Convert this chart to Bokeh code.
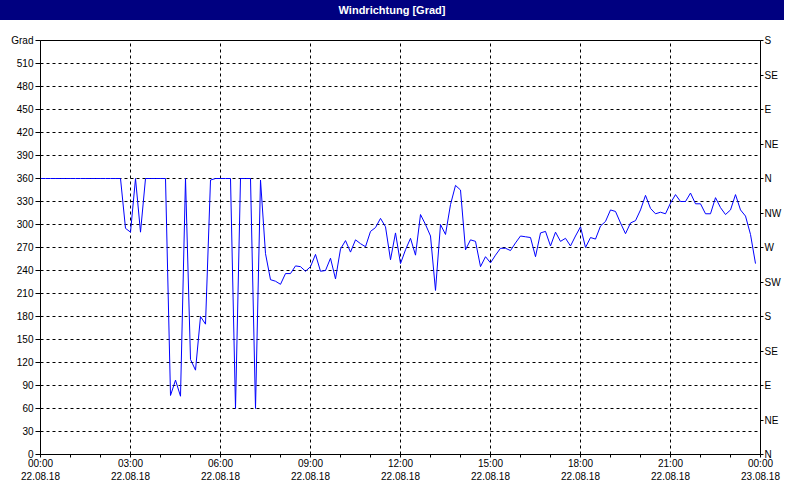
import pandas as pd
from bokeh.plotting import figure
from bokeh.layouts import column
from bokeh.models import (Range1d, LinearAxis, FixedTicker, DatetimeTickFormatter,
                          ColumnDataSource, Div)
from bokeh.embed import file_html
from bokeh.resources import INLINE

# ---------------- data ----------------
title_text = "Windrichtung [Grad]"
start_time = "2018-08-22 00:00"
end_time = "2018-08-23 00:00"
sample_count = 144          # 10-minute readings
sample_step = "10min"

direction = [
    360, 360, 360, 360, 360, 360, 360, 360, 360, 360, 360, 360,   # 00:00-01:50
    360, 360, 360, 360, 360, 295, 290, 360, 290, 360, 360, 360,   # 02:00-03:50
    360, 360, 77, 97, 76, 360, 124, 110, 180, 170, 358, 360,      # 04:00-05:50
    360, 360, 360, 60, 360, 360, 360, 60, 358, 262, 228, 226,     # 06:00-07:50
    222, 236, 236, 246, 245, 239, 245, 261, 239, 240, 256, 229,   # 08:00-09:50
    268, 279, 264, 280, 275, 271, 291, 296, 308, 297, 254, 289,   # 10:00-11:50
    249, 267, 282, 260, 313, 300, 285, 214, 300, 287, 326, 351,   # 12:00-13:50
    345, 267, 280, 278, 245, 258, 250, 260, 269, 269, 266, 276,   # 14:00-15:50
    285, 284, 283, 258, 289, 291, 272, 290, 278, 282, 272, 285,   # 16:00-17:50
    297, 270, 283, 281, 298, 304, 319, 317, 302, 288, 302, 305,   # 18:00-19:50
    319, 338, 321, 314, 316, 314, 328, 339, 330, 330, 341, 327,   # 20:00-21:50
    327, 314, 314, 335, 322, 313, 319, 339, 319, 311, 287, 249,   # 22:00-23:50
]

left_ticks = [0, 30, 60, 90, 120, 150, 180, 210, 240, 270, 300, 330,
              360, 390, 420, 450, 480, 510, 540]
left_top_label = "Grad"
right_ticks = [0, 45, 90, 135, 180, 225, 270, 315, 360, 405, 450, 495, 540]
right_labels = ["N", "NE", "E", "SE", "S", "SW", "W", "NW", "N", "NE", "E", "SE", "S"]
x_major_hours = [0, 3, 6, 9, 12, 15, 18, 21, 24]
x_minor_hours = list(range(0, 25))
label_format = "%H:%M\n%d.%m.%y"

# ---------------- build ----------------
times = pd.date_range(start_time, periods=sample_count, freq=sample_step)
src = ColumnDataSource(dict(t=times, v=direction))

t0 = pd.Timestamp(start_time)
def ms(h):
    return (t0 + pd.Timedelta(hours=h)).value / 1e6

FONT = "Liberation Sans"
FS = "10px"

header = Div(text=title_text, width=784, height=20,
             styles={"background-color": "#000080", "color": "white",
                     "font-weight": "bold", "font-size": "11px",
                     "font-family": FONT, "text-align": "center",
                     "line-height": "20px", "margin": "0", "padding": "0"})

p = figure(width=784, height=464, x_axis_type="datetime",
           x_range=Range1d(pd.Timestamp(start_time), pd.Timestamp(end_time)),
           y_range=Range1d(0, 540),
           output_backend="svg", toolbar_location=None,
           min_border_left=40, min_border_right=24,
           min_border_top=20, min_border_bottom=28)
p.background_fill_color = "white"
p.border_fill_color = "white"
p.outline_line_color = "black"
p.outline_line_width = 1

# grids
p.xgrid.ticker = FixedTicker(ticks=[ms(h) for h in x_major_hours])
p.ygrid.ticker = FixedTicker(ticks=left_ticks)
for g in (p.xgrid, p.ygrid):
    g.grid_line_color = "black"
    g.grid_line_dash = "3 3"
    g.grid_line_width = 1

# bottom axis
xa = p.xaxis[0]
xa.ticker = FixedTicker(ticks=[ms(h) for h in x_major_hours],
                        minor_ticks=[ms(h) for h in x_minor_hours])
xa.formatter = DatetimeTickFormatter(hours=label_format, hourmin=label_format,
                                     days=label_format, minutes=label_format,
                                     minsec=label_format, seconds=label_format)
xa.major_tick_out = 0
xa.major_tick_in = 0
xa.minor_tick_out = 3
xa.minor_tick_in = 0
xa.major_label_standoff = 0

# left axis
ya = p.yaxis[0]
ya.ticker = FixedTicker(ticks=left_ticks)
ya.major_label_overrides = {540: left_top_label}
ya.major_tick_out = 5
ya.major_tick_in = 0
ya.minor_tick_line_color = None
ya.major_label_standoff = 2

# right axis
ra = LinearAxis(ticker=FixedTicker(ticks=right_ticks),
                major_label_overrides={t: l for t, l in zip(right_ticks, right_labels)})
ra.major_tick_out = 3
ra.major_tick_in = 0
ra.minor_tick_line_color = None
ra.major_label_standoff = 1
p.add_layout(ra, "right")

for ax in (xa, ya, ra):
    ax.axis_line_color = "black"
    ax.major_tick_line_color = "black"
    ax.major_label_text_font = FONT
    ax.major_label_text_font_size = FS
    ax.major_label_text_color = "black"
xa.minor_tick_line_color = "black"

# series
p.line("t", "v", source=src, line_color="#0000FF", line_width=1)

layout = column(header, p, spacing=0)

open("out.html", "w").write(file_html(layout, INLINE))
